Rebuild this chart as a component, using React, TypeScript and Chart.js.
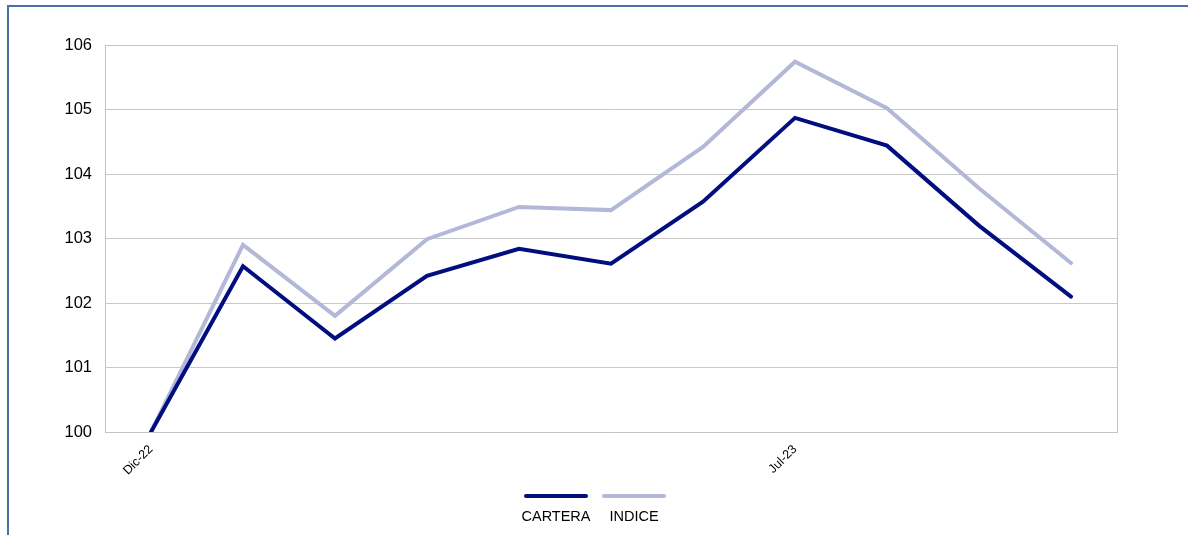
import { Chart, registerables } from 'chart.js';
import { useEffect, useRef } from 'react';

Chart.register(...registerables);

const meses = ['Dic-22', 'Ene-23', 'Feb-23', 'Mar-23', 'Abr-23', 'May-23', 'Jun-23', 'Jul-23', 'Ago-23', 'Sep-23', 'Oct-23'];
const etiquetasVisibles = ['Dic-22', 'Jul-23'];
const cartera = [100, 102.57, 101.45, 102.42, 102.84, 102.61, 103.57, 104.87, 104.44, 103.2, 102.1];
const indice = [100, 102.9, 101.8, 102.99, 103.49, 103.44, 104.42, 105.74, 105.02, 103.78, 102.62];
const yTicks = [100, 101, 102, 103, 104, 105, 106];

const AZUL = '#000e80';
const GRIS_AZUL = '#b3b8d8';
const FONT = '"Liberation Sans", Arial, sans-serif';

// marco gris alrededor del área del gráfico
const marcoPlugin = {
    id: 'marco',
    afterDatasetsDraw(chart: Chart) {
        const { ctx, chartArea } = chart;
        ctx.save();
        ctx.strokeStyle = '#c4c4c4';
        ctx.lineWidth = 1;
        ctx.beginPath();
        ctx.moveTo(chartArea.left, chartArea.top + 0.5);
        ctx.lineTo(chartArea.right + 0.5, chartArea.top + 0.5);
        ctx.lineTo(chartArea.right + 0.5, chartArea.bottom);
        ctx.stroke();
        ctx.restore();
    },
};

const App = () => {
    const chartRef = useRef<HTMLCanvasElement | null>(null);
    const chartInstance = useRef<Chart | null>(null);

    useEffect(() => {
        if (!chartRef.current) {
            return;
        }
        const context = chartRef.current.getContext('2d');
        if (!context) {
            return;
        }
        if (chartInstance.current) {
            chartInstance.current.destroy();
        }

        chartInstance.current = new Chart(context, {
            type: 'line',
            data: {
                labels: meses,
                datasets: [
                    {
                        label: 'CARTERA',
                        data: cartera,
                        borderColor: AZUL,
                        backgroundColor: AZUL,
                        borderWidth: 4,
                        pointRadius: 0,
                        borderCapStyle: 'round',
                        tension: 0,
                    },
                    {
                        label: 'INDICE',
                        data: indice,
                        borderColor: GRIS_AZUL,
                        backgroundColor: GRIS_AZUL,
                        borderWidth: 4,
                        pointRadius: 0,
                        borderCapStyle: 'round',
                        tension: 0,
                    },
                ],
            },
            options: {
                animation: false,
                responsive: true,
                maintainAspectRatio: false,
                layout: {
                    padding: { top: 45, right: 71, bottom: 0, left: 0 },
                },
                scales: {
                    x: {
                        offset: true,
                        grid: { display: false },
                        border: { color: '#c4c4c4', width: 1 },
                        ticks: {
                            autoSkip: false,
                            maxRotation: 45,
                            minRotation: 45,
                            padding: 2,
                            color: '#000',
                            font: { family: FONT, size: 12.5 },
                            callback: (_v, i) => (etiquetasVisibles.includes(meses[i]) ? meses[i] : ''),
                        },
                        afterFit: (scale) => {
                            scale.height = 103;
                        },
                    },
                    y: {
                        min: yTicks[0],
                        max: yTicks[yTicks.length - 1],
                        afterBuildTicks: (scale) => {
                            scale.ticks = yTicks.map((v) => ({ value: v }));
                        },
                        grid: { color: '#c8c8c8', lineWidth: 1, drawTicks: false },
                        border: { color: '#c4c4c4', width: 1 },
                        ticks: {
                            padding: 13,
                            color: '#000',
                            font: { family: FONT, size: 16.5 },
                        },
                        afterFit: (scale) => {
                            scale.width = 105;
                        },
                    },
                },
                plugins: {
                    legend: { display: false },
                    tooltip: { enabled: false },
                },
            },
            plugins: [marcoPlugin],
        });

        return () => {
            if (chartInstance.current) {
                chartInstance.current.destroy();
                chartInstance.current = null;
            }
        };
    }, []);

    const leyenda = [
        { label: 'CARTERA', color: AZUL, left: 524 },
        { label: 'INDICE', color: GRIS_AZUL, left: 602 },
    ];

    return (
        <div style={{ position: 'absolute', left: 0, top: 0, width: 1188, height: 535, overflow: 'hidden', background: '#fff' }}>
            <div
                style={{
                    position: 'absolute',
                    left: 7,
                    top: 5,
                    width: 1300,
                    height: 700,
                    borderTop: '2px solid #4b6ea6',
                    borderLeft: '2px solid #4b6ea6',
                }}
            />
            <div style={{ position: 'absolute', left: 0, top: 0, width: 1188, height: 535 }}>
                <canvas ref={chartRef} />
            </div>
            {leyenda.map((item) => (
                <div key={item.label}>
                    <div
                        style={{
                            position: 'absolute',
                            left: item.left,
                            top: 494,
                            width: 64,
                            height: 4,
                            borderRadius: 2,
                            background: item.color,
                        }}
                    />
                    <div
                        style={{
                            position: 'absolute',
                            left: item.left - 20,
                            top: 508,
                            width: 104,
                            textAlign: 'center',
                            fontFamily: FONT,
                            fontSize: 14.5,
                            lineHeight: '16px',
                            color: '#000',
                        }}
                    >
                        {item.label}
                    </div>
                </div>
            ))}
        </div>
    );
};

export default App;
